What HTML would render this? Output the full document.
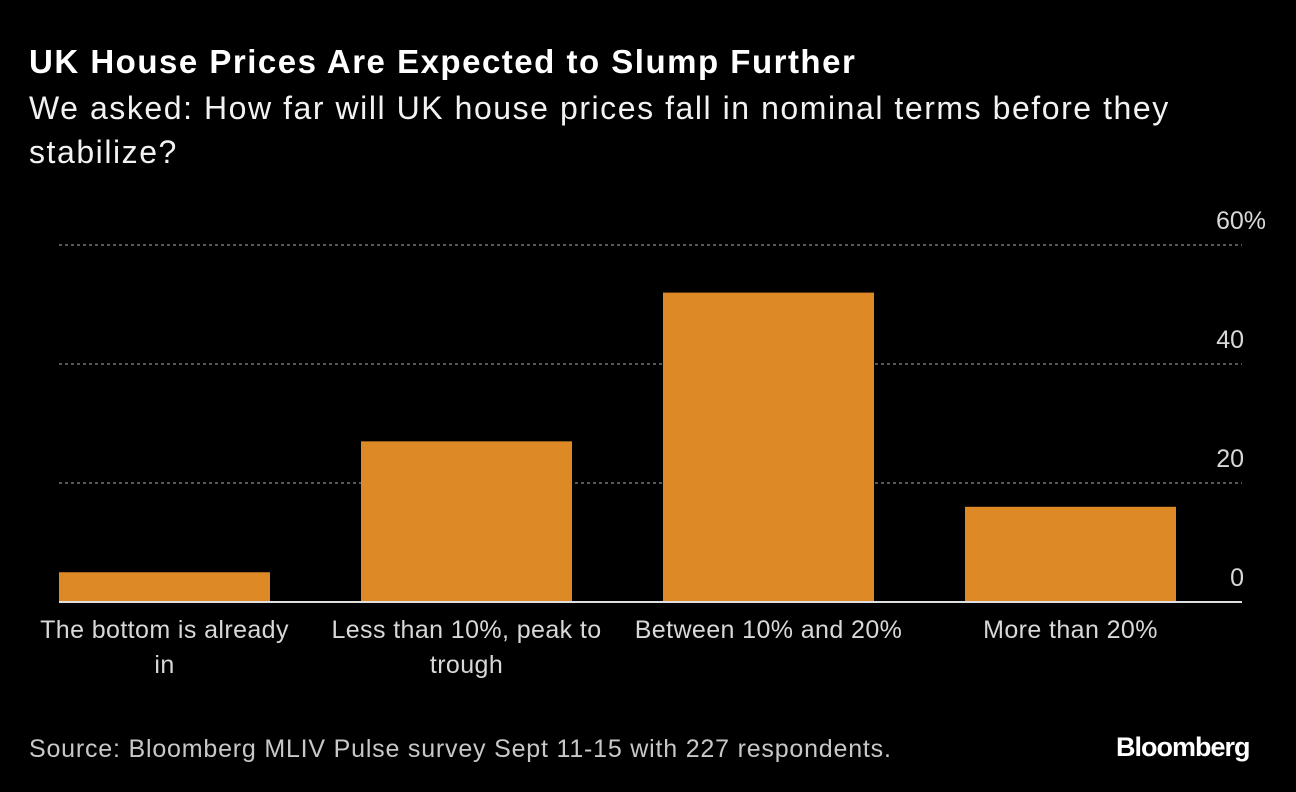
<!DOCTYPE html>
<html><head><meta charset="utf-8"><style>
body{margin:0;background:#000;width:1296px;height:792px;overflow:hidden;font-family:"Liberation Sans",sans-serif;color:#fff}
#title{position:absolute;left:29px;top:43px;font-size:33px;font-weight:bold;letter-spacing:1.5px}
#sub{position:absolute;left:29px;top:86px;font-size:32px;line-height:44px;width:1190px;color:#f2f2f2;letter-spacing:1.55px}
#src{position:absolute;left:29px;top:735px;font-size:25px;color:#c8c8c8;letter-spacing:0.8px}
#logo{position:absolute;left:1116px;top:732px;font-size:27px;font-weight:bold;letter-spacing:-1px}
</style></head><body>
<div id="title">UK House Prices Are Expected to Slump Further</div>
<div id="sub">We asked: How far will UK house prices fall in nominal terms before they stabilize?</div>
<svg id="chart" width="1296" height="792" style="position:absolute;left:0;top:0"></svg>
<div id="src">Source: Bloomberg MLIV Pulse survey Sept 11-15 with 227 respondents.</div>
<div id="logo">Bloomberg</div>
<script>
const categories=[["The bottom is already","in"],["Less than 10%, peak to","trough"],["Between 10% and 20%"],["More than 20%"]];
const values=[5,27,52,16];
const ticks=[0,20,40,60];
const tickLabels=["0","20","40","60%"];
const NS="http://www.w3.org/2000/svg";
const svg=document.getElementById('chart');
const y0=602,yTop=245,yMax=60,left=59,right=1242;
const y=v=>y0-(v/yMax)*(y0-yTop);
const bw=211;
const x=i=>left+i*302;
function mk(t,a){const e=document.createElementNS(NS,t);for(const k in a)e.setAttribute(k,a[k]);svg.appendChild(e);return e;}
ticks.forEach((t,i)=>{
 if(t>0){const g=mk('line',{x1:left,x2:right,y1:y(t),y2:y(t),stroke:'#8a8a8a','stroke-width':1.2,'stroke-dasharray':'3,3'});
 
 }
 const tx=mk('text',{x:1244,y:y(t)-16,'font-size':25,fill:'#d8d8d8','font-family':'Liberation Sans, sans-serif'});
 tx.textContent=tickLabels[i];
 
 
 if(tickLabels[i].includes('%')){tx.setAttribute('x',1216);}else{tx.setAttribute('text-anchor','end');}
});
values.forEach((v,i)=>{
 const r=mk('rect',{x:x(i),y:y(v),width:bw,height:y0-y(v),fill:'#dd8a26'});
 
 
 categories[i].forEach((ln,j)=>{
  const t=mk('text',{x:x(i)+bw/2,y:638+j*35,'font-size':25,'letter-spacing':0.4,fill:'#d8d8d8','text-anchor':'middle','font-family':'Liberation Sans, sans-serif'});
  t.textContent=ln;
  
  
 });
});
const b=mk('line',{x1:left,x2:right,y1:y0,y2:y0,stroke:'#e0e0e0','stroke-width':2});


</script>
</body></html>
